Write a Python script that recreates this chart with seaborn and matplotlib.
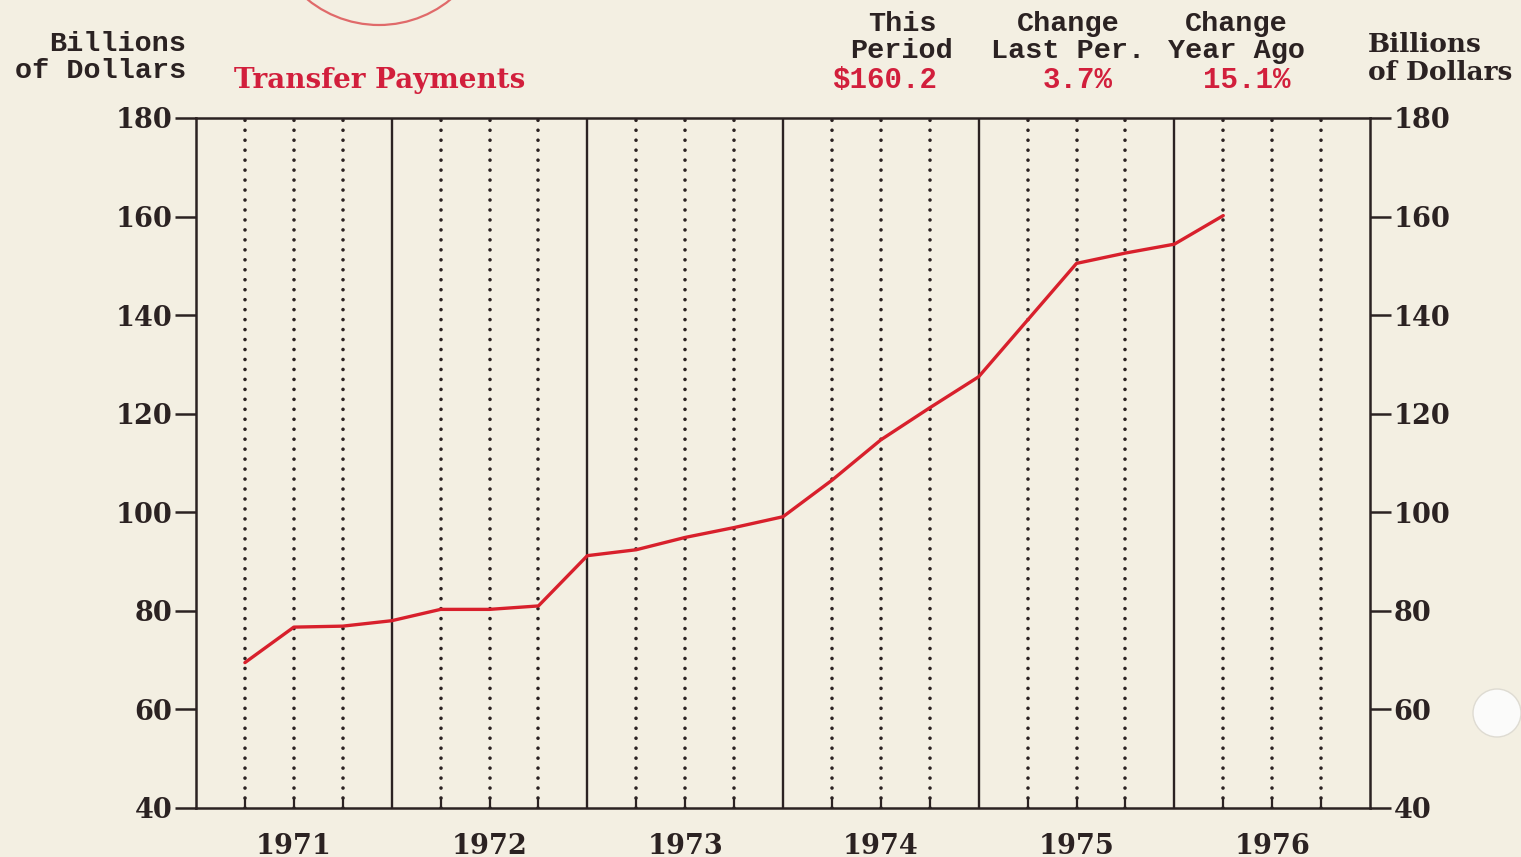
import numpy as np
import pandas as pd
import matplotlib
matplotlib.use("Agg")
import matplotlib.pyplot as plt
import seaborn as sns
from matplotlib.patches import Ellipse

# ---- data ----
quarter_pos = [1971.25 + 0.25 * i for i in range(21)]
values = [69.5, 76.7, 76.9, 78.0, 80.3, 80.3, 81.0, 91.2, 92.4, 94.9, 96.9, 99.1,
          106.5, 114.7, 121.2, 127.5, 139.0, 150.5, 152.6, 154.4, 160.2]
year_labels = ["1971", "1972", "1973", "1974", "1975", "1976"]
year_centers = [1971.5, 1972.5, 1973.5, 1974.5, 1975.5, 1976.5]
year_bounds = [1972, 1973, 1974, 1975, 1976]
y_ticks = [40, 60, 80, 100, 120, 140, 160, 180]
header_cols = ["This\nPeriod", "Change\nLast Per.", "Change\nYear Ago"]
header_vals = ["$160.2", "3.7%", "15.1%"]
series_name = "Transfer Payments"

df = pd.DataFrame({"t": quarter_pos, "v": values})

BG = "#f3efe2"
INK = "#2b2222"
RED = "#d21f3c"
LINE_RED = "#d8202c"

sns.set_theme(style="white")
plt.rcParams["font.family"] = ["DejaVu Serif"]

fig = plt.figure(figsize=(15.21, 8.57), dpi=100, facecolor=BG)
ax = fig.add_axes([196 / 1521, 1 - 808 / 857, 1174 / 1521, 690 / 857])
ax.set_facecolor(BG)

ax.set_xlim(1971.0, 1977.0)
ax.set_ylim(40, 180)

# grid: dotted quarter lines, solid year lines
for y in range(1971, 1977):
    for q in (0.25, 0.5, 0.75):
        x = y + q
        ax.axvline(x, color=INK, lw=2.6, linestyle=(0, (0.01, 2.75)),
                   dash_capstyle="round", zorder=1)
        ax.axvline(x, ymax=0.014, color=INK, lw=1.6, zorder=1)
for x in year_bounds:
    ax.axvline(x, color=INK, lw=1.7, zorder=1)

sns.lineplot(data=df, x="t", y="v", ax=ax, color=LINE_RED, lw=2.4, zorder=3)

for s in ax.spines.values():
    s.set_color(INK)
    s.set_linewidth(1.8)

ax.set_yticks(y_ticks)
ax.set_yticklabels([str(v) for v in y_ticks])
ax.tick_params(axis="y", which="both", left=True, right=True, labelleft=True,
               labelright=True, direction="out", length=15, width=1.8,
               color=INK, pad=2, labelsize=19.5, labelcolor=INK)
for lab in ax.get_yticklabels():
    lab.set_fontweight("bold")
ax.set_xticks(year_centers)
ax.set_xticklabels(year_labels)
ax.tick_params(axis="x", length=0, pad=18, labelsize=19.5, labelcolor=INK)
for lab in ax.get_xticklabels():
    lab.set_fontweight("bold")
ax.set_xlabel("")
ax.set_ylabel("")

def fx(px):
    return px / 1521

def fy(py):
    return 1 - py / 857

mono = ["Liberation Mono", "DejaVu Sans Mono"]

fig.text(fx(186), fy(44), "Billions", ha="right", va="center", family=mono,
         fontweight="bold", fontsize=20.5, color=INK)
fig.text(fx(186), fy(71), "of Dollars", ha="right", va="center", family=mono,
         fontweight="bold", fontsize=20.5, color=INK)
fig.text(fx(234), fy(80), series_name, ha="left", va="center",
         fontweight="bold", fontsize=20, color=RED)

col_x = [902, 1068, 1236]
for cx, lab in zip(col_x, header_cols):
    l1, l2 = lab.split("\n")
    fig.text(fx(cx), fy(24), l1, ha="center", va="center", family=mono,
             fontweight="bold", fontsize=20.5, color=INK)
    fig.text(fx(cx), fy(51), l2, ha="center", va="center", family=mono,
             fontweight="bold", fontsize=20.5, color=INK)
val_x = [885, 1078, 1247]
for vx, v in zip(val_x, header_vals):
    fig.text(fx(vx), fy(80), v, ha="center", va="center", family=mono,
             fontweight="bold", fontsize=21, color=RED)

fig.text(fx(1368), fy(45), "Billions", ha="left", va="center",
         fontweight="bold", fontsize=19, color=INK)
fig.text(fx(1368), fy(72), "of Dollars", ha="left", va="center",
         fontweight="bold", fontsize=19, color=INK)

# stamp fragment and punch hole
fig.patches.append(Ellipse((fx(379), fy(-88)), 2 * 113 / 1521, 2 * 113 / 857,
                           transform=fig.transFigure, fill=False,
                           edgecolor="#e06a6a", lw=1.6))
fig.patches.append(Ellipse((fx(1497), fy(713)), 2 * 24 / 1521, 2 * 24 / 857,
                           transform=fig.transFigure, facecolor="#fbfbfa",
                           edgecolor="#dedbd2", lw=1))

fig.savefig("out.png", dpi=100, facecolor=BG)
